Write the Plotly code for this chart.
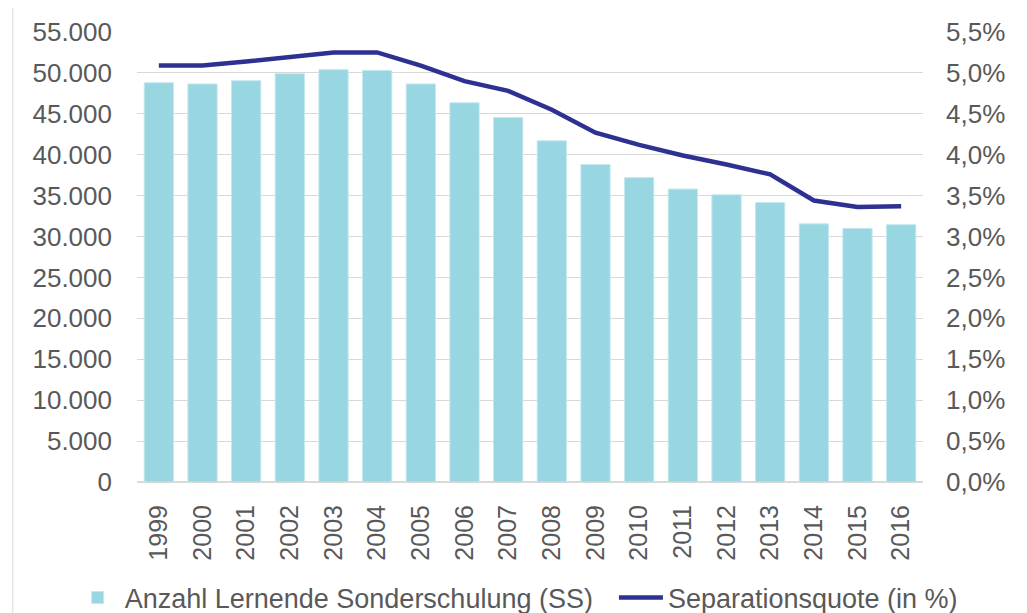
import plotly.graph_objects as go

years = [str(y) for y in range(1999, 2017)]
lernende = [48800, 48650, 49050, 49900, 50400, 50300, 48650, 46350, 44550,
            41700, 38800, 37200, 35800, 35100, 34150, 31550, 31000, 31450]
quote = [5.09, 5.09, 5.14, 5.19, 5.25, 5.25, 5.09, 4.90, 4.78,
         4.55, 4.27, 4.12, 3.99, 3.88, 3.76, 3.44, 3.36, 3.37]

txt = "#595959"
grid = "#D9D9D9"
fnt = dict(family="Liberation Sans, Arial, sans-serif", size=25, color=txt)
yfnt = dict(family="Liberation Sans, Arial, sans-serif", size=26, color=txt)
legfont = dict(family="Liberation Sans, Arial, sans-serif", size=27, color=txt)

fig = go.Figure()
fig.add_trace(go.Bar(x=years, y=lernende, name="Anzahl Lernende Sonderschulung (SS)",
                     marker=dict(color="#98D6E2", line=dict(width=1, color="#C4E8EF")),
                     yaxis="y", legend="legend"))
fig.add_trace(go.Scatter(x=years, y=quote, name="Separationsquote (in %)",
                         mode="lines", line=dict(color="#2E3192", width=4.5),
                         yaxis="y2", legend="legend2"))

fig.update_layout(
    width=1027, height=613,
    margin=dict(l=129, r=112, t=24, b=139, autoexpand=False),
    paper_bgcolor="white", plot_bgcolor="white",
    separators=",.",
    font=fnt,
    bargap=0.33,
    showlegend=True,
    legend=dict(orientation="h", xref="container", yref="container",
                x=0.061, xanchor="left", y=0.0375, yanchor="middle",
                font=legfont, itemwidth=44, bgcolor="rgba(0,0,0,0)"),
    legend2=dict(orientation="h", xref="container", yref="container",
                 x=0.59, xanchor="left", y=0.0375, yanchor="middle",
                 font=legfont, itemwidth=44, bgcolor="rgba(0,0,0,0)"),
    xaxis=dict(type="category", tickangle=-90, showgrid=False, ticks="",
               showline=True, linecolor=grid, linewidth=1, automargin=False,
               tickfont=fnt, ticklabelstandoff=12),
    yaxis=dict(range=[0, 55000], dtick=5000, tickformat=",.0f", automargin=False,
               showgrid=True, gridcolor=grid, gridwidth=1,
               zeroline=True, zerolinecolor=grid, showline=False, ticks="",
               tickfont=yfnt, ticklabelstandoff=24),
    yaxis2=dict(range=[0, 5.5], dtick=0.5, tickformat=".1f", ticksuffix="%",
                overlaying="y", side="right", showgrid=False, zeroline=False,
                automargin=False,
                showline=False, ticks="", tickfont=yfnt, ticklabelstandoff=22),
    shapes=[dict(type="line", xref="paper", yref="paper",
                 x0=-0.158, x1=-0.158, y0=-0.3, y1=1.08,
                 line=dict(color=grid, width=1))],
)

fig.write_html("out.html")
